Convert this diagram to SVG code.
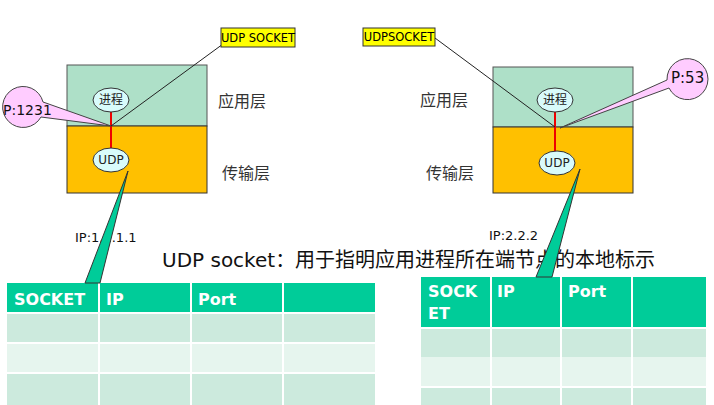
<svg xmlns="http://www.w3.org/2000/svg" width="714" height="405" viewBox="0 0 714 405">
  <style>
    .app { fill: #aee0c8; stroke: #555; stroke-width: 1; }
    .tra { fill: #ffc000; stroke: #333; stroke-width: 1; }
    .ell { fill: #d9fbfb; stroke: #333; stroke-width: 1; }
    .elltxt { font-family: "DejaVu Sans", "Noto Sans CJK SC", sans-serif; font-size: 12px; fill: #222; text-anchor: middle; }
    .layer { font-family: "Noto Sans CJK SC", sans-serif; font-size: 16px; fill: #333; }
    .tag { fill: #ffff00; stroke: #333; stroke-width: 1; }
    .tagtxt { font-family: "DejaVu Sans", sans-serif; font-size: 11.5px; fill: #000; text-anchor: middle; }
    .bubble { fill: #ffccff; stroke: #444; stroke-width: 1; }
    .bubtxt { font-family: "DejaVu Sans", sans-serif; font-size: 14px; fill: #111; }
    .wedge { fill: #00cc99; stroke: #333; stroke-width: 1; }
    .iptxt { font-family: "DejaVu Sans", sans-serif; font-size: 13px; fill: #111; }
    .hdr { fill: #00cc99; }
    .r1 { fill: #cceadd; }
    .r2 { fill: #e6f5ee; }
    .grid { stroke: #fff; stroke-width: 2; fill: none; }
    .htxt { font-family: "DejaVu Sans", sans-serif; font-size: 16px; font-weight: bold; fill: #fff; }
    .title { font-family: "DejaVu Sans", "Noto Sans CJK SC", sans-serif; font-size: 20px; fill: #111; }
  </style>

  <!-- left host -->
  <g id="host-left">
    <rect class="app" x="67" y="65" width="140" height="61"/>
    <rect class="tra" x="67" y="126" width="140" height="67"/>
    <line x1="111" y1="112" x2="111" y2="148" stroke="#e00" stroke-width="2"/>
    <ellipse class="ell" cx="111" cy="100" rx="18" ry="12"/>
    <text class="elltxt" x="111" y="104">进程</text>
    <ellipse class="ell" cx="111" cy="160" rx="18" ry="12"/>
    <text class="elltxt" x="111" y="164">UDP</text>
    <text class="layer" x="218" y="107">应用层</text>
    <text class="layer" x="222" y="179">传输层</text>
  </g>

  <!-- right host -->
  <g id="host-right">
    <rect class="app" x="493" y="67" width="140" height="60"/>
    <rect class="tra" x="493" y="127" width="140" height="66"/>
    <line x1="555" y1="112" x2="555" y2="151" stroke="#e00" stroke-width="2"/>
    <ellipse class="ell" cx="555" cy="100" rx="18" ry="12"/>
    <text class="elltxt" x="555" y="104">进程</text>
    <ellipse class="ell" cx="557" cy="163" rx="18" ry="12"/>
    <text class="elltxt" x="557" y="167">UDP</text>
    <text class="layer" x="420" y="106">应用层</text>
    <text class="layer" x="426" y="179">传输层</text>
  </g>

  <!-- connectors: socket pointers and callouts -->
  <g id="connectors">
    <line x1="111" y1="126" x2="223" y2="44" stroke="#222" stroke-width="1"/>
    <line x1="435" y1="38" x2="555" y2="127" stroke="#222" stroke-width="1"/>
    <path class="bubble" d="M43,102 L111,126 L41,117 A20.5,20.5 0 1 1 43,102 Z"/>
    <path class="bubble" d="M669,88 L560,128 L667,80 A20.5,20.5 0 1 1 669,88 Z"/>
  </g>

  <g id="tag-left">
    <rect class="tag" x="221" y="28" width="74" height="19"/>
    <text class="tagtxt" x="258" y="42">UDP SOCKET</text>
  </g>
  <g id="tag-right">
    <rect class="tag" x="363" y="28" width="72" height="18"/>
    <text class="tagtxt" x="399" y="41">UDPSOCKET</text>
  </g>

  <g id="port-left">
    <text class="bubtxt" x="3" y="115">P:1231</text>
  </g>
  <g id="port-right">
    <text class="bubtxt" x="671" y="83" style="font-size:15px">P:53</text>
  </g>

  <!-- address labels -->
  <text class="iptxt" x="75" y="242">IP:1.1.1.1</text>
  <text class="iptxt" x="489" y="240">IP:2.2.2</text>

  <!-- title -->
  <text class="title" x="162" y="267">UDP socket：用于指明应用进程所在端节点的本地标示</text>

  <!-- left table -->
  <g id="table-left">
    <rect class="hdr" x="7" y="283" width="368" height="30"/>
    <rect class="r1" x="7" y="313" width="368" height="30"/>
    <rect class="r2" x="7" y="343" width="368" height="30"/>
    <rect class="r1" x="7" y="373" width="368" height="32"/>
    <path class="grid" d="M99,283 V405 M191,283 V405 M283,283 V405 M7,313 H375 M7,343 H375 M7,373 H375"/>
    <text class="htxt" x="14" y="305">SOCKET</text>
    <text class="htxt" x="106" y="305">IP</text>
    <text class="htxt" x="198" y="305">Port</text>
  </g>

  <!-- right table -->
  <g id="table-right">
    <rect class="hdr" x="421" y="277" width="285" height="50"/>
    <rect class="r1" x="421" y="329" width="285" height="28"/>
    <rect class="r2" x="421" y="357" width="285" height="30"/>
    <rect class="r1" x="421" y="388" width="285" height="17"/>
    <path class="grid" d="M491,277 V405 M561,277 V405 M632,277 V405 M421,328 H706 M421,387 H706"/>
    <text class="htxt" x="428" y="297">SOCK</text>
    <text class="htxt" x="428" y="319">ET</text>
    <text class="htxt" x="497" y="297">IP</text>
    <text class="htxt" x="568" y="297">Port</text>
  </g>

  <!-- pointers from UDP to tables -->
  <g id="pointers">
    <path class="wedge" d="M128,171 L100,283 L85,283 Z"/>
    <path class="wedge" d="M580,169 L552,277 L536,277 Z"/>
  </g>
</svg>
